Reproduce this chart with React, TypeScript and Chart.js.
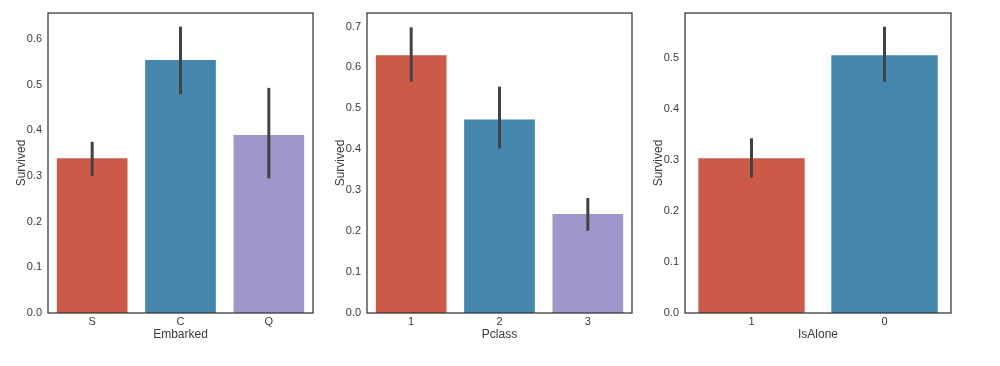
import React, { useEffect, useRef } from "react";
import { Chart, registerables } from "chart.js";

Chart.register(...registerables);

// Panel 1: Embarked
const embarkedCats = ["S", "C", "Q"];
const embarkedVals = [0.339, 0.554, 0.390];
const embarkedLo = [0.300, 0.479, 0.295];
const embarkedHi = [0.375, 0.627, 0.493];

// Panel 2: Pclass
const pclassCats = ["1", "2", "3"];
const pclassVals = [0.630, 0.473, 0.242];
const pclassLo = [0.565, 0.402, 0.201];
const pclassHi = [0.698, 0.553, 0.281];

// Panel 3: IsAlone
const aloneCats = ["1", "0"];
const aloneVals = [0.304, 0.506];
const aloneLo = [0.266, 0.454];
const aloneHi = [0.343, 0.562];

const COLORS = ["#CC5A49", "#4586AC", "#9E97CC"];
const TEXT = "#3a3a3a";
const FONT = "'Liberation Sans', Arial, sans-serif";

type PanelProps = {
  left: number;
  cats: string[];
  vals: number[];
  lo: number[];
  hi: number[];
  yMax: number;
  xTitle: string;
  rightPad: number;
};

function Panel({ left, cats, vals, lo, hi, yMax, xTitle, rightPad }: PanelProps) {
  const ref = useRef<HTMLCanvasElement | null>(null);
  useEffect(() => {
    if (!ref.current) return;
    const errorBars = {
      id: "errorBars",
      afterDatasetsDraw(chart: any) {
        const ctx = chart.ctx;
        const xs = chart.scales.x;
        const ys = chart.scales.y;
        ctx.save();
        ctx.strokeStyle = "#424242";
        ctx.lineWidth = 3;
        ctx.lineCap = "butt";
        for (let i = 0; i < cats.length; i++) {
          const x = xs.getPixelForValue(i);
          ctx.beginPath();
          ctx.moveTo(x, ys.getPixelForValue(lo[i]));
          ctx.lineTo(x, ys.getPixelForValue(hi[i]));
          ctx.stroke();
        }
        ctx.restore();
      },
    };
    const frame = {
      id: "frame",
      afterDraw(chart: any) {
        const a = chart.chartArea;
        const ctx = chart.ctx;
        ctx.save();
        ctx.strokeStyle = "#333333";
        ctx.lineWidth = 1.25;
        ctx.strokeRect(a.left, a.top, a.right - a.left, a.bottom - a.top);
        ctx.restore();
      },
    };
    const chart = new Chart(ref.current, {
      type: "bar",
      data: {
        labels: cats,
        datasets: [
          {
            data: vals,
            backgroundColor: COLORS.slice(0, cats.length),
            borderWidth: 0,
            categoryPercentage: 0.8,
            barPercentage: 1.0,
          },
        ],
      },
      options: {
        animation: false,
        responsive: false,
        maintainAspectRatio: false,
        layout: { padding: { left: 0, top: 13, right: rightPad, bottom: 24 } },
        plugins: { legend: { display: false }, tooltip: { enabled: false } },
        scales: {
          x: {
            grid: { display: false, drawTicks: false },
            border: { display: false },
            ticks: { color: TEXT, font: { family: FONT, size: 11 }, padding: 2 },
            title: {
              display: true,
              text: xTitle,
              color: TEXT,
              font: { family: FONT, size: 12 },
              padding: { top: 0, bottom: 0 },
            },
            afterFit: (s: any) => {
              s.height = 29;
            },
          },
          y: {
            min: 0,
            max: yMax,
            grid: { display: false, drawTicks: false },
            border: { display: false },
            ticks: {
              stepSize: 0.1,
              includeBounds: false,
              color: TEXT,
              font: { family: FONT, size: 11 },
              padding: 6,
              callback: (v: any) => Number(v).toFixed(1),
            },
            title: {
              display: true,
              text: "Survived",
              color: TEXT,
              font: { family: FONT, size: 12 },
              padding: { top: 14, bottom: 0 },
            },
            afterFit: (s: any) => {
              s.width = 48;
            },
          },
        },
      },
      plugins: [errorBars, frame],
    });
    return () => chart.destroy();
  }, []);
  return (
    <canvas
      ref={ref}
      width={330}
      height={366}
      style={{ position: "absolute", left, top: 0, width: 330, height: 366 }}
    />
  );
}

export default function App() {
  return (
    <div
      style={{
        position: "absolute",
        left: 0,
        top: 0,
        width: 1000,
        height: 366,
        background: "#ffffff",
        overflow: "hidden",
      }}
    >
      <Panel left={0} cats={embarkedCats} vals={embarkedVals} lo={embarkedLo} hi={embarkedHi} yMax={0.657} xTitle="Embarked" rightPad={17} />
      <Panel left={319} cats={pclassCats} vals={pclassVals} lo={pclassLo} hi={pclassHi} yMax={0.733} xTitle="Pclass" rightPad={17} />
      <Panel left={637} cats={aloneCats} vals={aloneVals} lo={aloneLo} hi={aloneHi} yMax={0.589} xTitle="IsAlone" rightPad={16} />
    </div>
  );
}
